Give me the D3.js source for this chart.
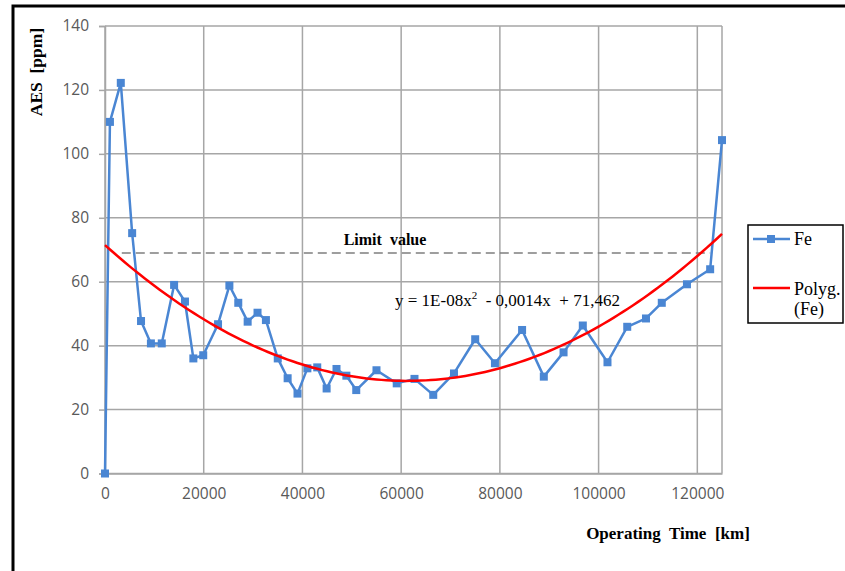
<!DOCTYPE html>
<html>
<head>
<meta charset="utf-8">
<script src="https://cdn.jsdelivr.net/npm/d3@7"></script>
<style>
  body { margin: 0; background: #fff; }
  .tick text { font-family: "Open Sans", "Liberation Sans", sans-serif; font-size: 15.5px; fill: #595959; }
  .title { font-family: "Liberation Serif", serif; font-weight: bold; fill: #000; white-space: pre; }
  .serif { font-family: "Liberation Serif", serif; fill: #000; white-space: pre; }
</style>
</head>
<body>
<svg id="chart" width="845" height="571"></svg>
<script>
//Operating time [km] of each sample
var km = [0, 1000, 3200, 5500, 7300, 9300, 11500, 14000, 16200, 17900, 19900, 22900, 25200, 27000,
    28900, 30900, 32600, 35000, 37000, 39000, 41000, 43000, 44900, 46900, 48900, 50900, 55000,
    59100, 62700, 66500, 70700, 75000, 79000, 84500, 88900, 92900, 96800, 101800, 105800,
    109600, 112800, 117900, 122600, 125000];

//Fe content [ppm]
var fe = [0, 110, 122.2, 75.2, 47.7, 40.7, 40.7, 59, 53.8, 36, 37, 46.7, 58.8, 53.4,
    47.5, 50.3, 48, 36, 29.8, 25, 32.9, 33.2, 26.6, 32.7, 30.6, 26.1, 32.3,
    28.2, 29.6, 24.6, 31.3, 42, 34.5, 44.9, 30.3, 37.9, 46.3, 34.8, 45.9,
    48.5, 53.4, 59.2, 63.9, 104.3];

//Polynomial trend coefficients c0, c1, c2
var trendCoef = [71.462, -0.001387, 1.132e-8];

//Limit value line
var limitValue = 69;
var limitRange = [3400, 122600];

var xTicks = [0, 20000, 40000, 60000, 80000, 100000, 120000];
var yTicks = [0, 20, 40, 60, 80, 100, 120, 140];

var svg = d3.select("#chart");
var plotLeft = 105, plotRight = 722, plotTop = 26, plotBottom = 473.5;

var x = d3.scaleLinear().domain([0, 125000]).range([plotLeft, plotRight]);
var y = d3.scaleLinear().domain([0, 140]).range([plotBottom, plotTop]);

//Outer frame
svg.append("path")
    .attr("d", "M13,575 L13,6 L850,6")
    .attr("fill", "none")
    .attr("stroke", "#000")
    .attr("stroke-width", 3);

//Grid lines
svg.append("g").selectAll("line")
    .data(xTicks.concat([125000]))
    .enter().append("line")
    .attr("x1", d => x(d)).attr("x2", d => x(d))
    .attr("y1", plotTop).attr("y2", plotBottom)
    .attr("stroke", "#a6a6a6").attr("stroke-width", 1.5);

svg.append("g").selectAll("line")
    .data(yTicks)
    .enter().append("line")
    .attr("x1", plotLeft).attr("x2", plotRight)
    .attr("y1", d => y(d)).attr("y2", d => y(d))
    .attr("stroke", "#a6a6a6").attr("stroke-width", 1.5);

//Axes
let yAxis = svg.append("g")
    .attr("transform", "translate(" + plotLeft + ",0)")
    .call(d3.axisLeft(y).tickValues(yTicks).tickSize(6).tickPadding(10));
yAxis.select(".domain").attr("stroke", "#a6a6a6").attr("stroke-width", 1.5);
yAxis.selectAll(".tick line").attr("stroke", "#a6a6a6").attr("stroke-width", 1.5);

let xAxis = svg.append("g")
    .attr("transform", "translate(0," + plotBottom + ")")
    .call(d3.axisBottom(x).tickValues(xTicks).tickSize(0).tickPadding(14).tickFormat(d3.format("d")));
xAxis.select(".domain").attr("stroke", "#a6a6a6").attr("stroke-width", 1.5);

//Limit value
svg.append("line")
    .attr("x1", x(limitRange[0])).attr("x2", x(limitRange[1]))
    .attr("y1", y(limitValue)).attr("y2", y(limitValue))
    .attr("stroke", "#7f7f7f").attr("stroke-width", 1.5)
    .attr("stroke-dasharray", "9,5");

svg.append("text")
    .attr("class", "title")
    .attr("x", 385).attr("y", y(limitValue) - 8)
    .attr("text-anchor", "middle")
    .style("font-size", "16px")
    .text("Limit  value");

//Fe series
let data = km.map((k, i) => ({ km: k, fe: fe[i] }));

svg.append("path")
    .datum(data)
    .attr("fill", "none")
    .attr("stroke", "#4a86d3")
    .attr("stroke-width", 2.5)
    .attr("stroke-linejoin", "round")
    .attr("d", d3.line().x(d => x(d.km)).y(d => y(d.fe)));

svg.append("g").selectAll("rect")
    .data(data)
    .enter().append("rect")
    .attr("x", d => x(d.km) - 4)
    .attr("y", d => y(d.fe) - 4)
    .attr("width", 8).attr("height", 8)
    .attr("fill", "#4a86d3");

//Trend curve
let trendX = d3.range(0, 125001, 1000);
svg.append("path")
    .datum(trendX)
    .attr("fill", "none")
    .attr("stroke", "#ff0000")
    .attr("stroke-width", 2.5)
    .attr("d", d3.line()
        .x(d => x(d))
        .y(d => y(trendCoef[0] + trendCoef[1] * d + trendCoef[2] * d * d)));

//Equation
let eq = svg.append("text")
    .attr("class", "serif")
    .attr("x", 395).attr("y", 306)
    .style("font-size", "17px");
eq.append("tspan").text("y = 1E-08x");
eq.append("tspan").attr("dy", -7).style("font-size", "11px").text("2");
eq.append("tspan").attr("dy", 7).text("  - 0,0014x  + 71,462");

//Axis titles
svg.append("text")
    .attr("class", "title")
    .attr("transform", "translate(42,72) rotate(-90)")
    .attr("text-anchor", "middle")
    .style("font-size", "17.5px")
    .text("AES  [ppm]");

svg.append("text")
    .attr("class", "title")
    .attr("x", 668).attr("y", 539)
    .attr("text-anchor", "middle")
    .style("font-size", "17px")
    .text("Operating  Time  [km]");

//Legend
let legend = svg.append("g");
legend.append("rect")
    .attr("x", 748).attr("y", 225)
    .attr("width", 95).attr("height", 98)
    .attr("fill", "#fff").attr("stroke", "#000").attr("stroke-width", 1.5);

legend.append("line")
    .attr("x1", 753).attr("x2", 790).attr("y1", 239).attr("y2", 239)
    .attr("stroke", "#4a86d3").attr("stroke-width", 2.5);
legend.append("rect")
    .attr("x", 767).attr("y", 235).attr("width", 8).attr("height", 8)
    .attr("fill", "#4a86d3");
legend.append("text")
    .attr("class", "serif")
    .attr("x", 794).attr("y", 245)
    .style("font-size", "18px")
    .text("Fe");

legend.append("line")
    .attr("x1", 753).attr("x2", 790).attr("y1", 288).attr("y2", 288)
    .attr("stroke", "#ff0000").attr("stroke-width", 2.5);
legend.append("text")
    .attr("class", "serif")
    .attr("x", 794).attr("y", 295)
    .style("font-size", "18px")
    .text("Polyg.");
legend.append("text")
    .attr("class", "serif")
    .attr("x", 794).attr("y", 315)
    .style("font-size", "18px")
    .text("(Fe)");
</script>
</body>
</html>
